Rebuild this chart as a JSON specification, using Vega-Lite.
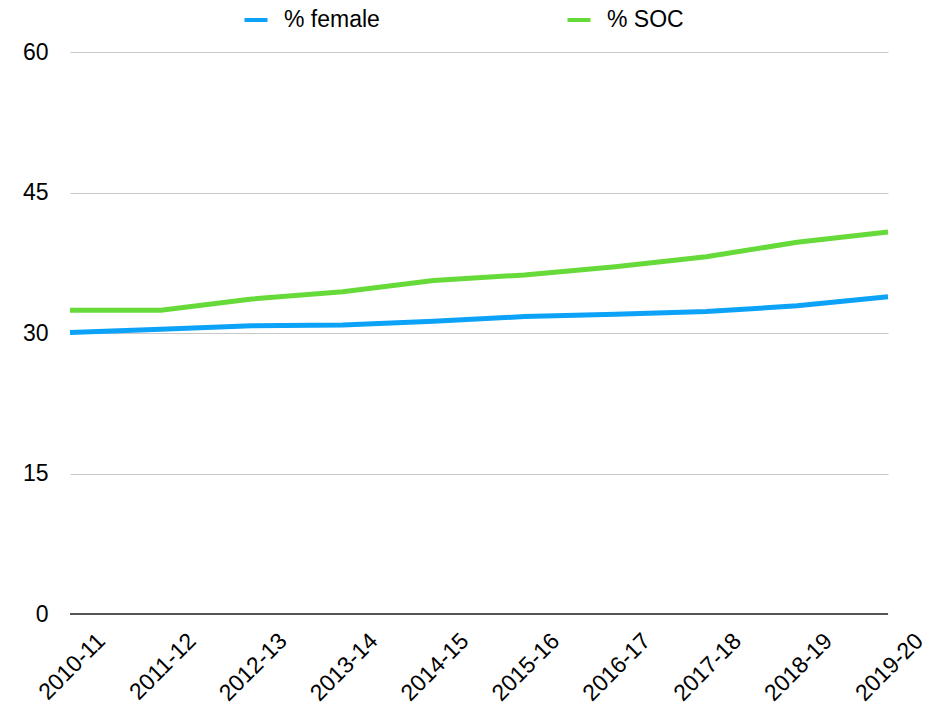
{
  "$schema": "https://vega.github.io/schema/vega-lite/v6.json",
  "width": 818,
  "height": 562,
  "autosize": "none",
  "padding": {"left": 70, "top": 52, "right": 42, "bottom": 100},
  "background": "white",
  "config": {
    "view": {"stroke": null},
    "font": "Liberation Sans"
  },
  "data": {
    "values": [
      {"year": "2010-11", "series": "% female", "value": 30.05},
      {"year": "2011-12", "series": "% female", "value": 30.4},
      {"year": "2012-13", "series": "% female", "value": 30.78},
      {"year": "2013-14", "series": "% female", "value": 30.85},
      {"year": "2014-15", "series": "% female", "value": 31.25},
      {"year": "2015-16", "series": "% female", "value": 31.75},
      {"year": "2016-17", "series": "% female", "value": 32.0},
      {"year": "2017-18", "series": "% female", "value": 32.3},
      {"year": "2018-19", "series": "% female", "value": 32.9},
      {"year": "2019-20", "series": "% female", "value": 33.87},
      {"year": "2010-11", "series": "% SOC", "value": 32.42},
      {"year": "2011-12", "series": "% SOC", "value": 32.42},
      {"year": "2012-13", "series": "% SOC", "value": 33.63},
      {"year": "2013-14", "series": "% SOC", "value": 34.41},
      {"year": "2014-15", "series": "% SOC", "value": 35.6},
      {"year": "2015-16", "series": "% SOC", "value": 36.2},
      {"year": "2016-17", "series": "% SOC", "value": 37.08},
      {"year": "2017-18", "series": "% SOC", "value": 38.15},
      {"year": "2018-19", "series": "% SOC", "value": 39.68},
      {"year": "2019-20", "series": "% SOC", "value": 40.78}
    ]
  },
  "encoding": {
    "x": {
      "field": "year",
      "type": "ordinal",
      "scale": {"type": "point", "padding": 0},
      "axis": {
        "title": null,
        "labelAngle": -45,
        "labelAlign": "right",
        "labelBaseline": "middle",
        "labelFontSize": 23,
        "labelColor": "#000",
        "labelPadding": 23,
        "labelOffset": 31,
        "labelOverlap": false,
        "labelBound": false,
        "ticks": false,
        "grid": false,
        "domain": false
      }
    },
    "y": {
      "field": "value",
      "type": "quantitative",
      "scale": {"domain": [0, 60], "nice": false},
      "axis": {
        "title": null,
        "values": [0, 15, 30, 45, 60],
        "labelFontSize": 23,
        "labelColor": "#000",
        "labelPadding": 22,
        "ticks": false,
        "domain": false,
        "gridColor": "#c8c8c8",
        "gridWidth": 1
      }
    },
    "color": {
      "field": "series",
      "type": "nominal",
      "sort": ["% female", "% SOC"],
      "scale": {"domain": ["% female", "% SOC"], "range": ["#0BA2F8", "#66DA38"]},
      "legend": {
        "title": null,
        "orient": "none",
        "legendX": 172,
        "legendY": -46,
        "direction": "horizontal",
        "columns": 2,
        "columnPadding": 179,
        "symbolType": "stroke",
        "symbolStrokeWidth": 4,
        "symbolSize": 530,
        "labelFontSize": 23,
        "labelColor": "#000",
        "labelOffset": 14
      }
    }
  },
  "layer": [
    {"mark": {"type": "rule", "color": "#555", "strokeWidth": 2}, "encoding": {"y": {"datum": 0}, "x": null, "color": null}},
    {"mark": {"type": "line", "strokeWidth": 5}}
  ]
}
